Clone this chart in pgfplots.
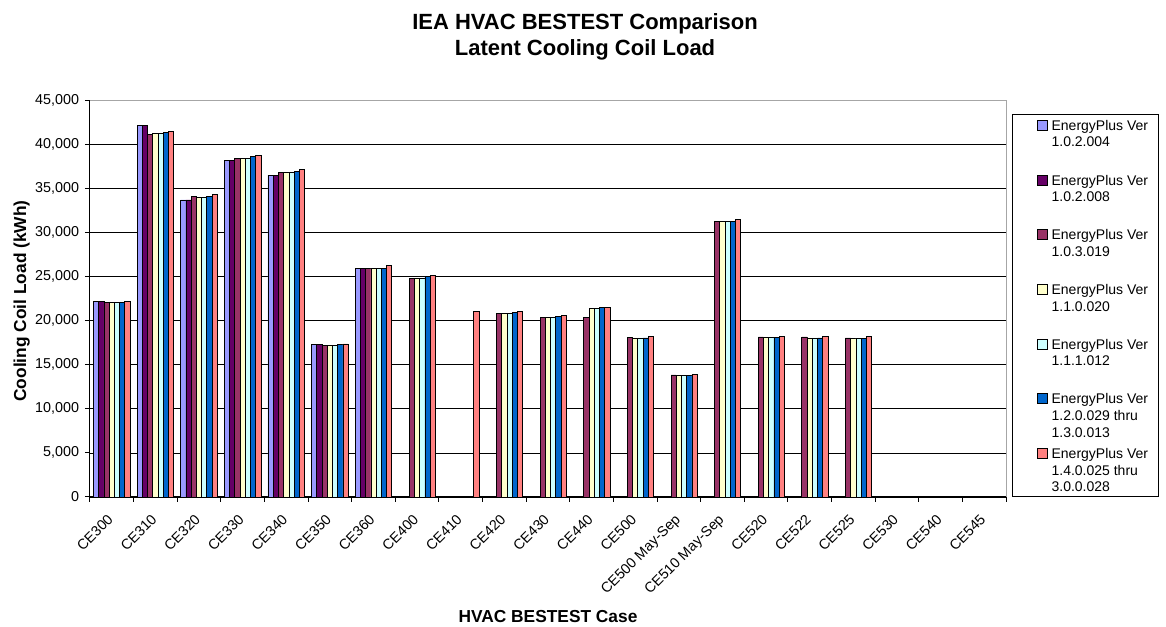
\documentclass[border=0pt]{standalone}
\usepackage{fontspec}
\setmainfont{Liberation Sans}
\usepackage{pgfplots}
\usepackage{pgfplotstable}
\pgfplotsset{compat=1.18}
\definecolor{c1}{HTML}{9999FF}
\definecolor{c2}{HTML}{660066}
\definecolor{c3}{HTML}{993366}
\definecolor{c4}{HTML}{FFFFCC}
\definecolor{c5}{HTML}{CCFFFF}
\definecolor{c6}{HTML}{0066CC}
\definecolor{c7}{HTML}{FF8080}
\pgfplotstableread{
x  s1    s2    s3    s4    s5    s6    s7
0  22160 22160 22010 22010 22010 22080 22160
1  42160 42160 41140 41210 41210 41290 41400
2  33670 33670 34020 33980 33980 34090 34280
3  38180 38180 38410 38410 38410 38560 38710
4  36480 36480 36780 36740 36740 36890 37080
5  17310 17310 17160 17160 17160 17270 17350
6  25910 25910 25910 25910 25910 25950 26200
7  nan   nan   24730 24730 24730 25040 25150
8  nan   nan   nan   nan   nan   nan   20990
9  nan   nan   20800 20800 20800 20870 20990
10 nan   nan   20380 20380 20380 20490 20570
11 nan   nan   20380 21330 21330 21440 21520
12 nan   nan   18070 18030 18030 18030 18220
13 nan   nan   13830 13790 13790 13790 13940
14 nan   nan   31210 31210 31210 31210 31440
15 nan   nan   18140 18070 18070 18070 18220
16 nan   nan   18140 18030 18030 18030 18220
17 nan   nan   18030 17990 17990 17990 18180
18 nan   nan   nan   nan   nan   nan   nan
19 nan   nan   nan   nan   nan   nan   nan
20 nan   nan   nan   nan   nan   nan   nan
}\data
\newcommand{\legtxt}[1]{\parbox[b][32pt][t]{76pt}{\raggedright\fontsize{10.5}{12.4}\selectfont #1}}
\pgfplotsset{mylegend/.style={legend image code/.code={%
  \path (0pt,0pt) (22.5pt,0pt);
  \draw[##1,line width=0.6pt,draw=black] (15pt,24.45pt) rectangle (22.5pt,31.95pt);}}}
\begin{document}
\begin{tikzpicture}
\begin{axis}[
  name=ax, at={(0,0)}, anchor=south west,
  scale only axis, width=687pt, height=297.75pt,
  xmin=-0.5, xmax=20.5, ymin=0, ymax=45000,
  ybar=0pt, bar width=3.925pt,
  every axis plot/.append style={draw=black, line width=0.6pt, mylegend},
  axis x line*=bottom, axis y line*=left,
  axis line style={-, black, line width=0.75pt},
  tick align=outside, major tick length=3.75pt,
  tick style={black, line width=0.75pt},
  xtick={-0.5,0.5,...,20.5}, xticklabels={},
  extra x ticks={0,1,...,20},
  extra x tick labels={CE300,CE310,CE320,CE330,CE340,CE350,CE360,CE400,CE410,CE420,CE430,CE440,CE500,CE500 May-Sep,CE510 May-Sep,CE520,CE522,CE525,CE530,CE540,CE545},
  extra x tick style={major tick length=0pt},
  xticklabel style={font=\fontsize{10.75}{12.5}\selectfont, inner sep=0pt, anchor=north east, xshift=-3.75pt, yshift=-12pt, rotate=45},
  ytick={0,5000,...,45000},
  scaled y ticks=false,
  /pgf/number format/1000 sep={,},
  /pgf/number format/assume math mode=true,
  yticklabel style={font=\fontsize{10.75}{12.5}\selectfont, inner sep=0pt, anchor=east, xshift=-4.25pt},
  ymajorgrids, grid style={black, line width=0.5pt},
  title={IEA HVAC BESTEST Comparison\\Latent Cooling Coil Load},
  title style={at={(axis description cs:0.5404,1.199)}, anchor=north, align=center, inner sep=0pt, font=\bfseries\fontsize{16.5}{19.5}\selectfont},
  xlabel={HVAC BESTEST Case},
  xlabel style={at={(axis description cs:0.5,-0.3149)}, anchor=base, inner sep=0pt, font=\bfseries\fontsize{13}{15.6}\selectfont},
  ylabel={Cooling Coil Load (kWh)},
  ylabel style={at={(axis description cs:-0.0746,0.4937)}, anchor=center, inner sep=0pt, font=\bfseries\fontsize{13}{15.6}\selectfont},
  legend cell align=left,
  legend style={at={(1.0066,0)}, anchor=south west, draw=black, line width=0.6pt, inner xsep=3.75pt, inner ysep=3.75pt, row sep=8.5pt, column sep=2.5pt, nodes={inner sep=0pt, text depth=0pt}, cells={anchor=base west}},
  after end axis/.code={\draw[gray!70, line width=0.75pt] (rel axis cs:0,1) -- (rel axis cs:1,1) -- (rel axis cs:1,0);},
]
\addplot[fill=c1] table[x=x, y=s1] {\data};
\addplot[fill=c2] table[x=x, y=s2] {\data};
\addplot[fill=c3] table[x=x, y=s3] {\data};
\addplot[fill=c4] table[x=x, y=s4] {\data};
\addplot[fill=c5] table[x=x, y=s5] {\data};
\addplot[fill=c6] table[x=x, y=s6] {\data};
\addplot[fill=c7] table[x=x, y=s7] {\data};
\legend{\legtxt{EnergyPlus Ver\\1.0.2.004},\legtxt{EnergyPlus Ver\\1.0.2.008},\legtxt{EnergyPlus Ver\\1.0.3.019},\legtxt{EnergyPlus Ver\\1.1.0.020},\legtxt{EnergyPlus Ver\\1.1.1.012},\legtxt{EnergyPlus Ver\\1.2.0.029 thru\\1.3.0.013},\legtxt{EnergyPlus Ver\\1.4.0.025 thru\\3.0.0.028}}
\end{axis}
\pgfresetboundingbox
\useasboundingbox ([shift={(-67.5pt,-97.5pt)}]ax.south west) rectangle ([shift={(807pt,372.75pt)}]ax.south west);
\end{tikzpicture}
\end{document}
